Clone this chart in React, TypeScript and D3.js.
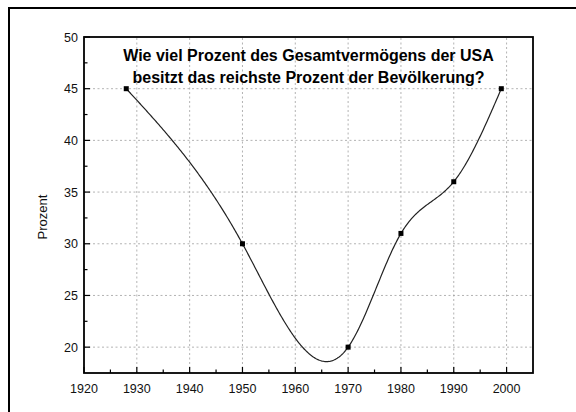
import React from "react";
import * as d3 from "d3";

// Anteil des reichsten Prozents am Gesamtvermögen der USA
const years = [1928, 1950, 1970, 1980, 1990, 1999];
const prozent = [45, 30, 20, 31, 36, 45];
const xTicks = [1920, 1930, 1940, 1950, 1960, 1970, 1980, 1990, 2000];
const yTicks = [20, 25, 30, 35, 40, 45, 50];
const titleLines = [
  "Wie viel Prozent des Gesamtvermögens der USA",
  "besitzt das reichste Prozent der Bevölkerung?",
];

const width = 576;
const height = 412;
const margin = { top: 37, right: 43, bottom: 39, left: 84 };

// natural cubic spline y(x), like the plotting program draws it
function splineFn(xs: number[], ys: number[]) {
  const n = xs.length - 1;
  const h = d3.range(n).map((i) => xs[i + 1] - xs[i]);
  const a: number[] = new Array(n + 1).fill(0);
  const b: number[] = new Array(n + 1).fill(1);
  const c: number[] = new Array(n + 1).fill(0);
  const r: number[] = new Array(n + 1).fill(0);
  for (let i = 1; i < n; i++) {
    a[i] = h[i - 1];
    b[i] = 2 * (h[i - 1] + h[i]);
    c[i] = h[i];
    r[i] = 6 * ((ys[i + 1] - ys[i]) / h[i] - (ys[i] - ys[i - 1]) / h[i - 1]);
  }
  // thomas algorithm
  for (let i = 1; i <= n; i++) {
    const m = a[i] / b[i - 1];
    b[i] -= m * c[i - 1];
    r[i] -= m * r[i - 1];
  }
  const M: number[] = new Array(n + 1).fill(0);
  M[n] = r[n] / b[n];
  for (let i = n - 1; i >= 0; i--) M[i] = (r[i] - c[i] * M[i + 1]) / b[i];
  return (x: number) => {
    let i = d3.bisectRight(xs, x) - 1;
    i = Math.max(0, Math.min(n - 1, i));
    const t1 = xs[i + 1] - x;
    const t0 = x - xs[i];
    const hi = h[i];
    return (
      (M[i] * t1 * t1 * t1) / (6 * hi) +
      (M[i + 1] * t0 * t0 * t0) / (6 * hi) +
      (ys[i] / hi - (M[i] * hi) / 6) * t1 +
      (ys[i + 1] / hi - (M[i + 1] * hi) / 6) * t0
    );
  };
}

export default function App() {
  const x = d3
    .scaleLinear()
    .domain([1920, 2005])
    .range([margin.left, width - margin.right]);
  const y = d3
    .scaleLinear()
    .domain([17.5, 50])
    .range([height - margin.bottom, margin.top]);

  const pts: [number, number][] = years.map((yr, i) => [yr, prozent[i]]);
  const f = splineFn(years, prozent);
  const xmin = years[0];
  const xmax = years[years.length - 1];
  const curvePts: [number, number][] = d3
    .range(0, 401)
    .map((k) => xmin + ((xmax - xmin) * k) / 400)
    .map((v) => [v, f(v)]);
  const line = d3
    .line<[number, number]>()
    .x((d) => x(d[0]))
    .y((d) => y(d[1]));

  const minorX = d3.range(1925, 2005, 10);
  const minorY = d3.range(17.5, 50, 5).filter((v) => v > 17.5);

  const x0 = x.range()[0];
  const x1 = x.range()[1];
  const y0 = y.range()[0];
  const y1 = y.range()[1];
  const font = "'Liberation Sans', Arial, sans-serif";

  return (
    <svg
      width={width}
      height={height}
      style={{ position: "absolute", left: 0, top: 0, background: "#fff" }}
    >
      {/* outer frame */}
      <rect x={9} y={8} width={width} height={height} fill="none" stroke="#000" strokeWidth={2} />

      {/* grid */}
      <g stroke="#a0a0a0" strokeWidth={0.8} strokeDasharray="2,2.5">
        {xTicks.slice(1).map((t) => (
          <line key={"gx" + t} x1={x(t)} x2={x(t)} y1={y0} y2={y1} />
        ))}
        {yTicks.slice(0, -1).map((t) => (
          <line key={"gy" + t} x1={x0} x2={x1} y1={y(t)} y2={y(t)} />
        ))}
      </g>

      {/* ticks */}
      <g stroke="#000" strokeWidth={1.2}>
        {xTicks.map((t) => (
          <line key={"tx" + t} x1={x(t)} x2={x(t)} y1={y0} y2={y0 - 6} />
        ))}
        {minorX.map((t) => (
          <line key={"mx" + t} x1={x(t)} x2={x(t)} y1={y0} y2={y0 - 3.5} />
        ))}
        {yTicks.map((t) => (
          <line key={"ty" + t} x1={x0} x2={x0 + 6} y1={y(t)} y2={y(t)} />
        ))}
        {minorY.map((t) => (
          <line key={"my" + t} x1={x0} x2={x0 + 3.5} y1={y(t)} y2={y(t)} />
        ))}
      </g>

      {/* plot frame */}
      <rect
        x={x0}
        y={y1}
        width={x1 - x0}
        height={y0 - y1}
        fill="none"
        stroke="#000"
        strokeWidth={1.8}
      />

      {/* curve */}
      <path d={line(curvePts) || ""} fill="none" stroke="#222" strokeWidth={1.2} />
      {pts.map((d, i) => (
        <rect key={i} x={x(d[0]) - 2.5} y={y(d[1]) - 2.5} width={5} height={5} fill="#000" />
      ))}

      {/* tick labels */}
      <g fontFamily={font} fontSize={12.5} fill="#111">
        {xTicks.map((t) => (
          <text key={"lx" + t} x={x(t)} y={y0 + 20} textAnchor="middle">
            {t}
          </text>
        ))}
        {yTicks.map((t) => (
          <text key={"ly" + t} x={x0 - 6} y={y(t) + 4.5} textAnchor="end">
            {t}
          </text>
        ))}
      </g>

      {/* axis title */}
      <text
        transform={`translate(47,217) rotate(-90)`}
        textAnchor="middle"
        fontFamily={font}
        fontSize={13}
        fill="#111"
      >
        Prozent
      </text>

      {/* chart title */}
      <g fontFamily={font} fontSize={16} fontWeight="bold" fill="#000" textAnchor="middle">
        {titleLines.map((s, i) => (
          <text key={i} x={(x0 + x1) / 2} y={61 + i * 22}>
            {s}
          </text>
        ))}
      </g>
    </svg>
  );
}
